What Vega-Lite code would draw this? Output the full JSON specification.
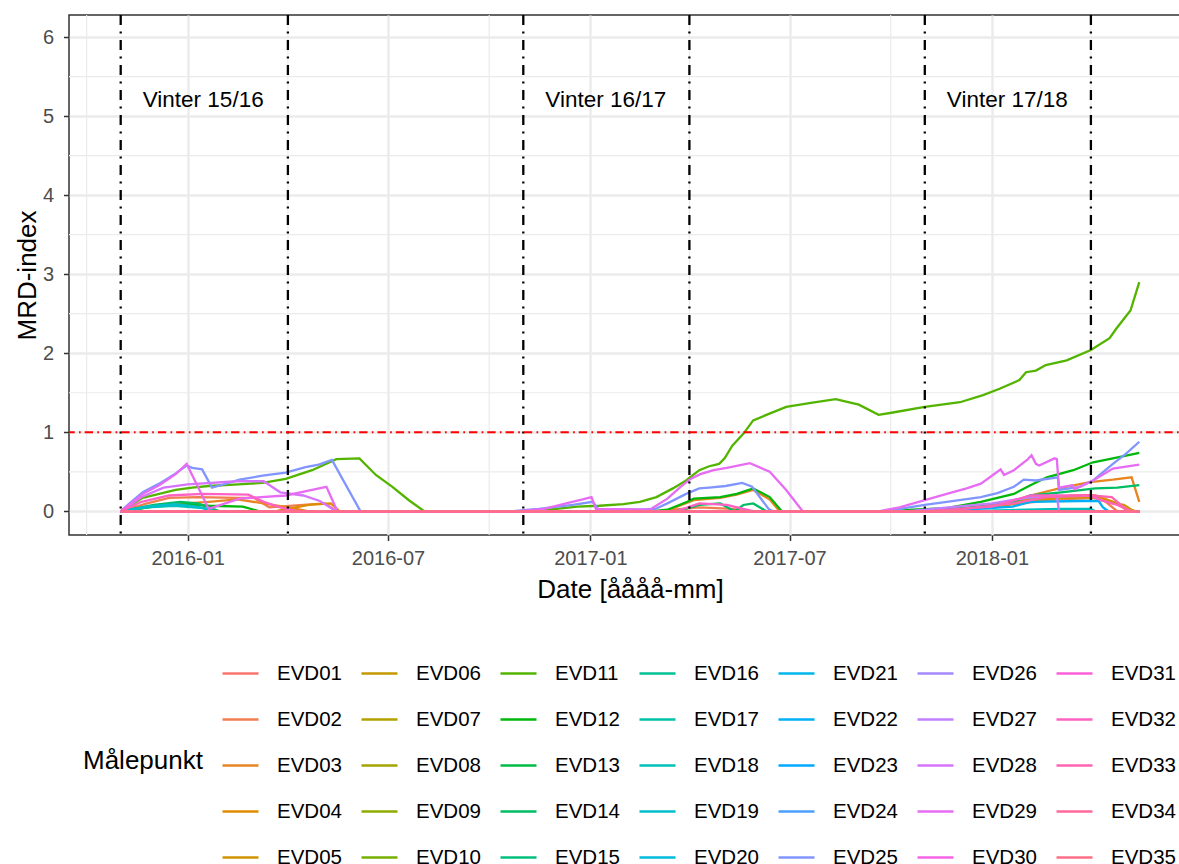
{
"$schema":"https://vega.github.io/schema/vega-lite/v6.json",
"autosize":{"type":"none"},
"padding":{"left":69,"top":15,"right":0,"bottom":329},
"width":1122,
"height":520,
"config":{
"font":"Liberation Sans",
"view":{"stroke":"#333333","strokeWidth":1.5},
"axis":{"domain":false,"gridColor":"#EBEBEB","gridWidth":2.4,"tickColor":"#333333","tickWidth":1.5,"tickSize":5.5,"labelFontSize":20,"labelColor":"#4D4D4D","titleFontSize":26,"titleFontWeight":"normal","titleColor":"#000000","labelFont":"Liberation Sans","titleFont":"Liberation Sans","labelFlush":false},
"axisX":{"labelPadding":8,"titlePadding":8},
"axisY":{"labelPadding":10,"titlePadding":2},
"legend":{"labelFont":"Liberation Sans","titleFont":"Liberation Sans","labelFontSize":20.5,"titleFontSize":26,"titleFontWeight":"normal","labelColor":"#000000","titleColor":"#000000"}
},
"layer":[
{"data":{"values":[{"d":"2015-10-01"},{"d":"2016-04-01"},{"d":"2016-10-01"},{"d":"2017-04-01"},{"d":"2017-10-01"},{"d":"2018-04-01"}]},
"mark":{"type":"rule","color":"#EBEBEB","strokeWidth":1.2},
"encoding":{"x":{"field":"d","type":"temporal"}}},
{"data":{"values":[{"v":0.5},{"v":1.5},{"v":2.5},{"v":3.5},{"v":4.5},{"v":5.5}]},
"mark":{"type":"rule","color":"#EBEBEB","strokeWidth":1.2},
"encoding":{"y":{"field":"v","type":"quantitative"}}},
{"data":{"values":[
{"s":"EVD01","d":"2015-11-01","v":0},{"s":"EVD01","d":"2018-05-15","v":0},
{"s":"EVD02","d":"2015-11-01","v":0},{"s":"EVD02","d":"2015-11-25","v":0.1},{"s":"EVD02","d":"2015-12-15","v":0.17},{"s":"EVD02","d":"2016-01-10","v":0.18},{"s":"EVD02","d":"2016-02-15","v":0.17},{"s":"EVD02","d":"2016-03-01","v":0.17},{"s":"EVD02","d":"2016-03-15","v":0.05},{"s":"EVD02","d":"2016-04-15","v":0.08},{"s":"EVD02","d":"2016-05-05","v":0.1},{"s":"EVD02","d":"2016-05-15","v":0},{"s":"EVD02","d":"2017-03-01","v":0},{"s":"EVD02","d":"2017-04-10","v":0.05},{"s":"EVD02","d":"2017-05-10","v":0.03},{"s":"EVD02","d":"2017-05-25","v":0},{"s":"EVD02","d":"2017-11-01","v":0},{"s":"EVD02","d":"2018-01-15","v":0.08},{"s":"EVD02","d":"2018-03-01","v":0.15},{"s":"EVD02","d":"2018-04-10","v":0.17},{"s":"EVD02","d":"2018-04-25","v":0},{"s":"EVD02","d":"2018-05-15","v":0},
{"s":"EVD03","d":"2015-11-01","v":0},{"s":"EVD03","d":"2015-12-10","v":0.08},{"s":"EVD03","d":"2016-01-20","v":0.12},{"s":"EVD03","d":"2016-02-15","v":0.15},{"s":"EVD03","d":"2016-03-10","v":0.1},{"s":"EVD03","d":"2016-04-01","v":0.05},{"s":"EVD03","d":"2016-04-20","v":0},{"s":"EVD03","d":"2017-03-10","v":0},{"s":"EVD03","d":"2017-04-05","v":0.14},{"s":"EVD03","d":"2017-04-29","v":0.17},{"s":"EVD03","d":"2017-05-14","v":0.21},{"s":"EVD03","d":"2017-05-29","v":0.27},{"s":"EVD03","d":"2017-06-13","v":0.15},{"s":"EVD03","d":"2017-06-22","v":0},{"s":"EVD03","d":"2017-10-20","v":0},{"s":"EVD03","d":"2017-12-15","v":0.05},{"s":"EVD03","d":"2018-01-21","v":0.12},{"s":"EVD03","d":"2018-02-05","v":0.2},{"s":"EVD03","d":"2018-03-06","v":0.3},{"s":"EVD03","d":"2018-03-31","v":0.37},{"s":"EVD03","d":"2018-04-21","v":0.4},{"s":"EVD03","d":"2018-05-08","v":0.43},{"s":"EVD03","d":"2018-05-15","v":0.12},
{"s":"EVD04","d":"2015-11-01","v":0},{"s":"EVD04","d":"2016-03-20","v":0},{"s":"EVD04","d":"2016-04-20","v":0.08},{"s":"EVD04","d":"2016-05-10","v":0.1},{"s":"EVD04","d":"2016-05-18","v":0},{"s":"EVD04","d":"2017-11-15","v":0},{"s":"EVD04","d":"2018-02-01","v":0.12},{"s":"EVD04","d":"2018-03-15","v":0.2},{"s":"EVD04","d":"2018-04-05","v":0.2},{"s":"EVD04","d":"2018-04-25","v":0.1},{"s":"EVD04","d":"2018-05-05","v":0},{"s":"EVD04","d":"2018-05-15","v":0},
{"s":"EVD05","d":"2015-11-01","v":0},{"s":"EVD05","d":"2017-11-15","v":0},{"s":"EVD05","d":"2018-01-15","v":0.08},{"s":"EVD05","d":"2018-02-05","v":0.16},{"s":"EVD05","d":"2018-04-03","v":0.18},{"s":"EVD05","d":"2018-04-10","v":0.14},{"s":"EVD05","d":"2018-04-21","v":0.1},{"s":"EVD05","d":"2018-05-01","v":0.08},{"s":"EVD05","d":"2018-05-08","v":0.02},{"s":"EVD05","d":"2018-05-12","v":0},{"s":"EVD05","d":"2018-05-15","v":0},
{"s":"EVD06","d":"2015-11-01","v":0},{"s":"EVD06","d":"2018-05-15","v":0},
{"s":"EVD07","d":"2015-11-01","v":0},{"s":"EVD07","d":"2018-05-15","v":0},
{"s":"EVD08","d":"2015-11-01","v":0},{"s":"EVD08","d":"2018-05-15","v":0},
{"s":"EVD09","d":"2015-11-01","v":0},{"s":"EVD09","d":"2018-05-15","v":0},
{"s":"EVD10","d":"2015-11-01","v":0},{"s":"EVD10","d":"2018-05-15","v":0},
{"s":"EVD11","d":"2015-11-01","v":0},{"s":"EVD11","d":"2015-11-21","v":0.17},{"s":"EVD11","d":"2015-12-06","v":0.22},{"s":"EVD11","d":"2015-12-21","v":0.27},{"s":"EVD11","d":"2016-01-05","v":0.3},{"s":"EVD11","d":"2016-01-20","v":0.32},{"s":"EVD11","d":"2016-02-16","v":0.34},{"s":"EVD11","d":"2016-03-09","v":0.36},{"s":"EVD11","d":"2016-03-30","v":0.41},{"s":"EVD11","d":"2016-04-23","v":0.52},{"s":"EVD11","d":"2016-05-09","v":0.62},{"s":"EVD11","d":"2016-05-15","v":0.66},{"s":"EVD11","d":"2016-06-05","v":0.67},{"s":"EVD11","d":"2016-06-20","v":0.46},{"s":"EVD11","d":"2016-07-05","v":0.31},{"s":"EVD11","d":"2016-07-20","v":0.14},{"s":"EVD11","d":"2016-08-03","v":0},{"s":"EVD11","d":"2016-11-01","v":0},{"s":"EVD11","d":"2016-12-01","v":0.03},{"s":"EVD11","d":"2016-12-20","v":0.06},{"s":"EVD11","d":"2017-01-09","v":0.07},{"s":"EVD11","d":"2017-01-31","v":0.09},{"s":"EVD11","d":"2017-02-15","v":0.12},{"s":"EVD11","d":"2017-03-02","v":0.18},{"s":"EVD11","d":"2017-03-17","v":0.29},{"s":"EVD11","d":"2017-03-29","v":0.39},{"s":"EVD11","d":"2017-04-10","v":0.52},{"s":"EVD11","d":"2017-04-19","v":0.57},{"s":"EVD11","d":"2017-04-28","v":0.6},{"s":"EVD11","d":"2017-05-03","v":0.67},{"s":"EVD11","d":"2017-05-10","v":0.83},{"s":"EVD11","d":"2017-05-20","v":0.98},{"s":"EVD11","d":"2017-05-29","v":1.15},{"s":"EVD11","d":"2017-06-10","v":1.22},{"s":"EVD11","d":"2017-06-28","v":1.32},{"s":"EVD11","d":"2017-07-19","v":1.37},{"s":"EVD11","d":"2017-08-12","v":1.42},{"s":"EVD11","d":"2017-09-02","v":1.35},{"s":"EVD11","d":"2017-09-20","v":1.22},{"s":"EVD11","d":"2017-10-03","v":1.25},{"s":"EVD11","d":"2017-11-01","v":1.32},{"s":"EVD11","d":"2017-12-03","v":1.38},{"s":"EVD11","d":"2017-12-24","v":1.47},{"s":"EVD11","d":"2018-01-08","v":1.55},{"s":"EVD11","d":"2018-01-26","v":1.66},{"s":"EVD11","d":"2018-02-01","v":1.76},{"s":"EVD11","d":"2018-02-10","v":1.78},{"s":"EVD11","d":"2018-02-19","v":1.85},{"s":"EVD11","d":"2018-03-10","v":1.91},{"s":"EVD11","d":"2018-04-01","v":2.04},{"s":"EVD11","d":"2018-04-18","v":2.19},{"s":"EVD11","d":"2018-04-24","v":2.31},{"s":"EVD11","d":"2018-05-07","v":2.54},{"s":"EVD11","d":"2018-05-15","v":2.9},
{"s":"EVD12","d":"2015-11-01","v":0},{"s":"EVD12","d":"2015-12-01","v":0.06},{"s":"EVD12","d":"2016-01-01","v":0.09},{"s":"EVD12","d":"2016-01-20","v":0.07},{"s":"EVD12","d":"2016-02-20","v":0.06},{"s":"EVD12","d":"2016-03-06","v":0},{"s":"EVD12","d":"2017-02-25","v":0},{"s":"EVD12","d":"2017-03-12","v":0.02},{"s":"EVD12","d":"2017-03-30","v":0.12},{"s":"EVD12","d":"2017-04-05","v":0.16},{"s":"EVD12","d":"2017-04-29","v":0.18},{"s":"EVD12","d":"2017-05-14","v":0.22},{"s":"EVD12","d":"2017-05-29","v":0.29},{"s":"EVD12","d":"2017-06-13","v":0.18},{"s":"EVD12","d":"2017-06-24","v":0},{"s":"EVD12","d":"2017-10-01","v":0},{"s":"EVD12","d":"2017-10-21","v":0.02},{"s":"EVD12","d":"2017-11-21","v":0.04},{"s":"EVD12","d":"2017-12-22","v":0.12},{"s":"EVD12","d":"2018-01-21","v":0.22},{"s":"EVD12","d":"2018-02-05","v":0.33},{"s":"EVD12","d":"2018-02-20","v":0.43},{"s":"EVD12","d":"2018-03-16","v":0.52},{"s":"EVD12","d":"2018-04-03","v":0.62},{"s":"EVD12","d":"2018-04-21","v":0.67},{"s":"EVD12","d":"2018-05-15","v":0.74},
{"s":"EVD13","d":"2015-11-01","v":0},{"s":"EVD13","d":"2018-05-15","v":0},
{"s":"EVD14","d":"2015-11-01","v":0},{"s":"EVD14","d":"2015-12-01","v":0.08},{"s":"EVD14","d":"2015-12-25","v":0.12},{"s":"EVD14","d":"2016-01-10","v":0.1},{"s":"EVD14","d":"2016-01-30","v":0},{"s":"EVD14","d":"2017-03-20","v":0},{"s":"EVD14","d":"2017-04-10","v":0.08},{"s":"EVD14","d":"2017-04-29","v":0.1},{"s":"EVD14","d":"2017-05-12","v":0},{"s":"EVD14","d":"2017-05-20","v":0.08},{"s":"EVD14","d":"2017-05-29","v":0.1},{"s":"EVD14","d":"2017-06-10","v":0},{"s":"EVD14","d":"2017-11-01","v":0},{"s":"EVD14","d":"2017-12-20","v":0.06},{"s":"EVD14","d":"2018-01-20","v":0.12},{"s":"EVD14","d":"2018-02-05","v":0.2},{"s":"EVD14","d":"2018-03-05","v":0.24},{"s":"EVD14","d":"2018-04-05","v":0.29},{"s":"EVD14","d":"2018-04-25","v":0.3},{"s":"EVD14","d":"2018-05-15","v":0.33},
{"s":"EVD15","d":"2015-11-01","v":0},{"s":"EVD15","d":"2018-05-15","v":0},
{"s":"EVD16","d":"2015-11-01","v":0},{"s":"EVD16","d":"2018-05-15","v":0},
{"s":"EVD17","d":"2015-11-01","v":0},{"s":"EVD17","d":"2018-05-15","v":0},
{"s":"EVD18","d":"2015-11-01","v":0},{"s":"EVD18","d":"2015-11-25","v":0.05},{"s":"EVD18","d":"2015-12-20","v":0.07},{"s":"EVD18","d":"2016-01-15","v":0.04},{"s":"EVD18","d":"2016-01-25","v":0},{"s":"EVD18","d":"2017-12-01","v":0},{"s":"EVD18","d":"2018-02-01","v":0.02},{"s":"EVD18","d":"2018-03-05","v":0.03},{"s":"EVD18","d":"2018-04-01","v":0.03},{"s":"EVD18","d":"2018-04-05","v":0},{"s":"EVD18","d":"2018-05-15","v":0},
{"s":"EVD19","d":"2015-11-01","v":0},{"s":"EVD19","d":"2015-11-25","v":0.06},{"s":"EVD19","d":"2015-12-20","v":0.09},{"s":"EVD19","d":"2016-01-10","v":0.06},{"s":"EVD19","d":"2016-01-25","v":0},{"s":"EVD19","d":"2018-05-15","v":0},
{"s":"EVD20","d":"2015-11-01","v":0},{"s":"EVD20","d":"2018-05-15","v":0},
{"s":"EVD21","d":"2015-11-01","v":0},{"s":"EVD21","d":"2018-05-15","v":0},
{"s":"EVD22","d":"2015-11-01","v":0},{"s":"EVD22","d":"2017-11-15","v":0},{"s":"EVD22","d":"2018-01-20","v":0.06},{"s":"EVD22","d":"2018-02-05","v":0.12},{"s":"EVD22","d":"2018-03-22","v":0.13},{"s":"EVD22","d":"2018-04-08","v":0.13},{"s":"EVD22","d":"2018-04-12","v":0.05},{"s":"EVD22","d":"2018-04-17","v":0},{"s":"EVD22","d":"2018-05-15","v":0},
{"s":"EVD23","d":"2015-11-01","v":0},{"s":"EVD23","d":"2018-05-15","v":0},
{"s":"EVD24","d":"2015-11-01","v":0},{"s":"EVD24","d":"2018-05-15","v":0},
{"s":"EVD25","d":"2015-11-01","v":0},{"s":"EVD25","d":"2015-11-09","v":0.1},{"s":"EVD25","d":"2015-11-21","v":0.24},{"s":"EVD25","d":"2015-12-06","v":0.35},{"s":"EVD25","d":"2015-12-21","v":0.48},{"s":"EVD25","d":"2015-12-31","v":0.58},{"s":"EVD25","d":"2016-01-05","v":0.55},{"s":"EVD25","d":"2016-01-14","v":0.53},{"s":"EVD25","d":"2016-01-23","v":0.3},{"s":"EVD25","d":"2016-02-05","v":0.35},{"s":"EVD25","d":"2016-02-17","v":0.4},{"s":"EVD25","d":"2016-03-09","v":0.45},{"s":"EVD25","d":"2016-03-30","v":0.49},{"s":"EVD25","d":"2016-04-17","v":0.56},{"s":"EVD25","d":"2016-04-29","v":0.59},{"s":"EVD25","d":"2016-05-11","v":0.65},{"s":"EVD25","d":"2016-06-06","v":0},{"s":"EVD25","d":"2016-10-20","v":0},{"s":"EVD25","d":"2016-11-15","v":0.03},{"s":"EVD25","d":"2016-12-16","v":0.08},{"s":"EVD25","d":"2017-01-03","v":0.12},{"s":"EVD25","d":"2017-01-08","v":0.03},{"s":"EVD25","d":"2017-02-15","v":0.02},{"s":"EVD25","d":"2017-03-01","v":0.03},{"s":"EVD25","d":"2017-03-12","v":0.1},{"s":"EVD25","d":"2017-03-29","v":0.22},{"s":"EVD25","d":"2017-04-10","v":0.29},{"s":"EVD25","d":"2017-04-19","v":0.3},{"s":"EVD25","d":"2017-05-04","v":0.32},{"s":"EVD25","d":"2017-05-19","v":0.36},{"s":"EVD25","d":"2017-05-28","v":0.31},{"s":"EVD25","d":"2017-06-12","v":0.03},{"s":"EVD25","d":"2017-06-16","v":0},{"s":"EVD25","d":"2017-09-25","v":0},{"s":"EVD25","d":"2017-10-09","v":0.03},{"s":"EVD25","d":"2017-11-01","v":0.08},{"s":"EVD25","d":"2017-11-21","v":0.12},{"s":"EVD25","d":"2017-12-22","v":0.18},{"s":"EVD25","d":"2018-01-06","v":0.23},{"s":"EVD25","d":"2018-01-21","v":0.31},{"s":"EVD25","d":"2018-01-30","v":0.4},{"s":"EVD25","d":"2018-02-10","v":0.39},{"s":"EVD25","d":"2018-03-02","v":0.43},{"s":"EVD25","d":"2018-03-03","v":0.27},{"s":"EVD25","d":"2018-03-22","v":0.31},{"s":"EVD25","d":"2018-04-03","v":0.39},{"s":"EVD25","d":"2018-04-21","v":0.6},{"s":"EVD25","d":"2018-05-03","v":0.73},{"s":"EVD25","d":"2018-05-15","v":0.88},
{"s":"EVD26","d":"2015-11-01","v":0},{"s":"EVD26","d":"2018-05-15","v":0},
{"s":"EVD27","d":"2015-11-01","v":0},{"s":"EVD27","d":"2017-10-15","v":0},{"s":"EVD27","d":"2018-01-01","v":0.1},{"s":"EVD27","d":"2018-02-01","v":0.17},{"s":"EVD27","d":"2018-03-01","v":0.2},{"s":"EVD27","d":"2018-03-03","v":0},{"s":"EVD27","d":"2018-05-15","v":0},
{"s":"EVD28","d":"2015-11-01","v":0},{"s":"EVD28","d":"2015-11-20","v":0.18},{"s":"EVD28","d":"2015-12-10","v":0.3},{"s":"EVD28","d":"2016-01-01","v":0.34},{"s":"EVD28","d":"2016-02-15","v":0.38},{"s":"EVD28","d":"2016-03-10","v":0.38},{"s":"EVD28","d":"2016-03-25","v":0.24},{"s":"EVD28","d":"2016-04-15","v":0.2},{"s":"EVD28","d":"2016-04-30","v":0.13},{"s":"EVD28","d":"2016-05-15","v":0},{"s":"EVD28","d":"2018-05-15","v":0},
{"s":"EVD29","d":"2015-11-01","v":0},{"s":"EVD29","d":"2015-11-21","v":0.22},{"s":"EVD29","d":"2015-12-06","v":0.33},{"s":"EVD29","d":"2015-12-21","v":0.47},{"s":"EVD29","d":"2015-12-31","v":0.6},{"s":"EVD29","d":"2016-01-20","v":0.03},{"s":"EVD29","d":"2016-02-17","v":0.16},{"s":"EVD29","d":"2016-03-30","v":0.2},{"s":"EVD29","d":"2016-04-23","v":0.27},{"s":"EVD29","d":"2016-05-06","v":0.31},{"s":"EVD29","d":"2016-05-16","v":0},{"s":"EVD29","d":"2016-10-25","v":0},{"s":"EVD29","d":"2016-11-20","v":0.03},{"s":"EVD29","d":"2016-12-10","v":0.1},{"s":"EVD29","d":"2016-12-25","v":0.15},{"s":"EVD29","d":"2017-01-02","v":0.18},{"s":"EVD29","d":"2017-01-06","v":0.03},{"s":"EVD29","d":"2017-02-24","v":0.02},{"s":"EVD29","d":"2017-03-12","v":0.16},{"s":"EVD29","d":"2017-03-24","v":0.31},{"s":"EVD29","d":"2017-04-02","v":0.41},{"s":"EVD29","d":"2017-04-11","v":0.47},{"s":"EVD29","d":"2017-04-23","v":0.52},{"s":"EVD29","d":"2017-05-05","v":0.55},{"s":"EVD29","d":"2017-05-26","v":0.61},{"s":"EVD29","d":"2017-06-13","v":0.5},{"s":"EVD29","d":"2017-06-28","v":0.27},{"s":"EVD29","d":"2017-07-13","v":0},{"s":"EVD29","d":"2017-09-20","v":0},{"s":"EVD29","d":"2017-10-09","v":0.05},{"s":"EVD29","d":"2017-11-01","v":0.14},{"s":"EVD29","d":"2017-11-21","v":0.22},{"s":"EVD29","d":"2017-12-09","v":0.29},{"s":"EVD29","d":"2017-12-22","v":0.35},{"s":"EVD29","d":"2018-01-06","v":0.5},{"s":"EVD29","d":"2018-01-09","v":0.53},{"s":"EVD29","d":"2018-01-12","v":0.46},{"s":"EVD29","d":"2018-01-21","v":0.52},{"s":"EVD29","d":"2018-02-02","v":0.65},{"s":"EVD29","d":"2018-02-06","v":0.71},{"s":"EVD29","d":"2018-02-10","v":0.6},{"s":"EVD29","d":"2018-02-13","v":0.58},{"s":"EVD29","d":"2018-02-27","v":0.67},{"s":"EVD29","d":"2018-03-01","v":0.66},{"s":"EVD29","d":"2018-03-03","v":0.3},{"s":"EVD29","d":"2018-03-15","v":0.33},{"s":"EVD29","d":"2018-03-17","v":0.28},{"s":"EVD29","d":"2018-04-03","v":0.39},{"s":"EVD29","d":"2018-04-21","v":0.54},{"s":"EVD29","d":"2018-05-15","v":0.59},
{"s":"EVD30","d":"2015-11-01","v":0},{"s":"EVD30","d":"2018-05-15","v":0},
{"s":"EVD31","d":"2015-11-01","v":0},{"s":"EVD31","d":"2018-05-15","v":0},
{"s":"EVD32","d":"2015-11-01","v":0},{"s":"EVD32","d":"2015-11-20","v":0.12},{"s":"EVD32","d":"2015-12-15","v":0.2},{"s":"EVD32","d":"2016-01-15","v":0.22},{"s":"EVD32","d":"2016-02-25","v":0.21},{"s":"EVD32","d":"2016-03-10","v":0.12},{"s":"EVD32","d":"2016-03-25","v":0.05},{"s":"EVD32","d":"2016-04-10","v":0},{"s":"EVD32","d":"2017-03-20","v":0},{"s":"EVD32","d":"2017-04-10","v":0.1},{"s":"EVD32","d":"2017-05-05","v":0.08},{"s":"EVD32","d":"2017-05-20","v":0.03},{"s":"EVD32","d":"2017-05-30","v":0},{"s":"EVD32","d":"2017-11-01","v":0},{"s":"EVD32","d":"2018-01-01","v":0.06},{"s":"EVD32","d":"2018-02-05","v":0.2},{"s":"EVD32","d":"2018-03-31","v":0.2},{"s":"EVD32","d":"2018-04-10","v":0.14},{"s":"EVD32","d":"2018-04-25","v":0.08},{"s":"EVD32","d":"2018-05-08","v":0},{"s":"EVD32","d":"2018-05-15","v":0},
{"s":"EVD33","d":"2015-11-01","v":0},{"s":"EVD33","d":"2017-11-15","v":0},{"s":"EVD33","d":"2018-01-20","v":0.1},{"s":"EVD33","d":"2018-02-20","v":0.18},{"s":"EVD33","d":"2018-04-01","v":0.2},{"s":"EVD33","d":"2018-04-20","v":0.18},{"s":"EVD33","d":"2018-05-05","v":0},{"s":"EVD33","d":"2018-05-15","v":0},
{"s":"EVD34","d":"2015-11-01","v":0},{"s":"EVD34","d":"2018-05-15","v":0},
{"s":"EVD35","d":"2015-11-01","v":0},{"s":"EVD35","d":"2018-05-15","v":0}
]},
"mark":{"type":"line","strokeWidth":2.3,"interpolate":"linear"},
"encoding":{
"x":{"field":"d","type":"temporal","title":"Date [åååå-mm]",
"scale":{"type":"utc","domain":[{"year":2015,"month":9,"date":15,"utc":true},{"year":2018,"month":7,"date":1,"utc":true}]},
"axis":{"format":"%Y-%m","values":[{"year":2016,"month":1,"date":1,"utc":true},{"year":2016,"month":7,"date":1,"utc":true},{"year":2017,"month":1,"date":1,"utc":true},{"year":2017,"month":7,"date":1,"utc":true},{"year":2018,"month":1,"date":1,"utc":true}]}},
"y":{"field":"v","type":"quantitative","title":"MRD-index","scale":{"domain":[-0.3,6.28],"nice":false,"zero":false},"axis":{"values":[0,1,2,3,4,5,6],"format":"d"}},
"color":{"field":"s","type":"nominal","title":"Målepunkt",
"scale":{"domain":["EVD01","EVD06","EVD11","EVD16","EVD21","EVD26","EVD31","EVD02","EVD07","EVD12","EVD17","EVD22","EVD27","EVD32","EVD03","EVD08","EVD13","EVD18","EVD23","EVD28","EVD33","EVD04","EVD09","EVD14","EVD19","EVD24","EVD29","EVD34","EVD05","EVD10","EVD15","EVD20","EVD25","EVD30","EVD35"],
"range":["#F8766D","#C49A00","#53B400","#00C094","#00B6EB","#A589FF","#FB61D7","#F17E4F","#B4A000","#00B70C","#00C1A8","#00B0F6","#C17FFF","#FF61C5","#E88523","#A3A500","#00BB45","#00C0BB","#00A8FF","#D774FD","#FF64B2","#DE8C00","#8EAB00","#00BD64","#00BECD","#4B9FFF","#E76BF3","#FF699D","#D29300","#75AF00","#00BF7D","#00BBDD","#8195FF","#F365E6","#FD6F86"]},
"legend":{"orient":"none","legendX":14,"legendY":639,"columns":7,"direction":"horizontal","titleOrient":"left","titleAnchor":"middle","titleBaseline":"middle","titlePadding":18,"symbolType":"stroke","symbolSize":1296,"symbolStrokeWidth":2.5,"labelOffset":17,"columnPadding":14,"rowPadding":16,"symbolLimit":40,"padding":0}}
}},
{"data":{"values":[{"d":"2015-11-01"},{"d":"2016-04-01"},{"d":"2016-11-01"},{"d":"2017-04-01"},{"d":"2017-11-01"},{"d":"2018-04-01"}]},
"mark":{"type":"rule","color":"#000000","strokeWidth":2.3,"strokeDash":[10,6.5,2,6.5]},
"encoding":{"x":{"field":"d","type":"temporal"}}},
{"data":{"values":[{"v":1}]},
"mark":{"type":"rule","color":"#FF0000","strokeWidth":2,"strokeDash":[8.3,4,1.7,4.3]},
"encoding":{"y":{"field":"v","type":"quantitative"}}},
{"data":{"values":[{"lab":"Vinter 15/16","d":"2016-01-15","v":5.2},{"lab":"Vinter 16/17","d":"2017-01-15","v":5.2},{"lab":"Vinter 17/18","d":"2018-01-15","v":5.2}]},
"mark":{"type":"text","fontSize":22.5,"color":"#000000","align":"center","baseline":"middle","font":"Liberation Sans"},
"encoding":{"x":{"field":"d","type":"temporal"},"y":{"field":"v","type":"quantitative"},"text":{"field":"lab"}}}
]
}
